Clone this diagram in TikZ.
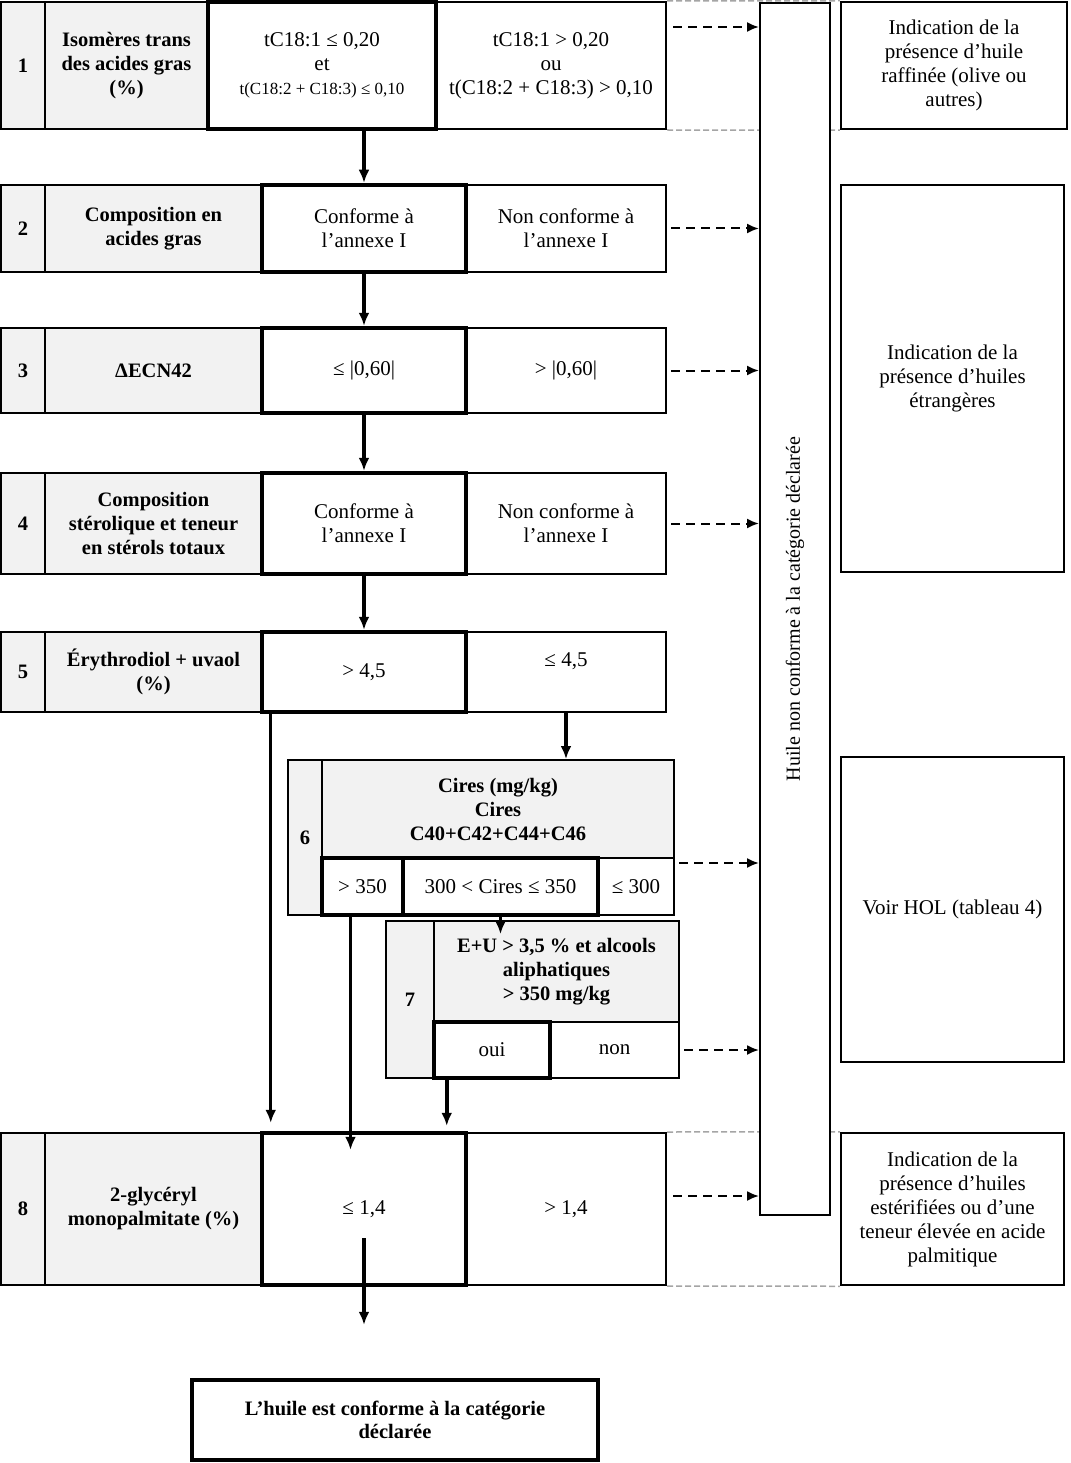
\documentclass[tikz,border=0pt]{standalone}
\usepackage{fontspec}
\setmainfont{Liberation Serif}
\usepackage{xcolor}
\definecolor{cellgrey}{RGB}{242, 242, 242}
\definecolor{guidegrey}{RGB}{165, 165, 165}
\usetikzlibrary{arrows.meta, positioning, calc}

\begin{document}
\begin{tikzpicture}[x=1pt, y=-1pt,
        area/.style n args={4}{at={({(#1+#3)/2},{(#2+#4)/2})}, minimum width={#3-#1}, minimum height={#4-#2}},
        cell/.style={rectangle, draw, line width=2pt, fill=white, inner sep=0pt, align=center, font=\fontsize{21}{24}\selectfont},
        num/.style={cell, fill=cellgrey, font=\fontsize{20.5}{24}\selectfont\bfseries},
        crit/.style={cell, fill=cellgrey, font=\fontsize{20.5}{24}\selectfont\bfseries},
        pass/.style={cell, line width=4.5pt},
        note/.style={rectangle, draw, line width=2.5pt, inner sep=0pt, align=center, font=\fontsize{21}{24}\selectfont},
        guide/.style={draw=guidegrey, line width=1.5pt, dash pattern=on 6pt off 3pt},
        line/.style={draw, -{Latex[length=13pt, width=11pt]}, line width=3.5pt},
        dline/.style={draw, -{Latex[length=12pt, width=10pt]}, line width=2pt, dash pattern=on 9pt off 6pt}]

    \useasboundingbox (0,0) rectangle (1070,1463);

    % rangee 1
    \node [num, area={1}{2}{45}{129}] (n1) {1};
    \node [crit, area={45}{2}{208}{129}] (c1) {Isomères trans\\des acides gras\\(\%)};
    \node [cell, area={436}{2}{666}{129}] (f1) {tC18:1 > 0,20\\ou\\t(C18:2 + C18:3) > 0,10};
    \node [pass, area={208}{2}{436}{129}] (p1) {tC18:1 ≤ 0,20\\et\\{\fontsize{17}{20}\selectfont t(C18:2 + C18:3) ≤ 0,10}};

    % rangee 2
    \node [num, area={1}{185}{45}{272}] (n2) {2};
    \node [crit, area={45}{185}{262}{272}] (c2) {Composition en\\acides gras};
    \node [cell, area={466}{185}{666}{272}] (f2) {Non conforme à\\l’annexe I};
    \node [pass, area={262}{185}{466}{272}] (p2) {Conforme à\\l’annexe I};

    % rangee 3
    \node [num, area={1}{328}{45}{413}] (n3) {3};
    \node [crit, area={45}{328}{262}{413}] (c3) {ΔECN42};
    \node [cell, area={466}{328}{666}{413}] (f3) {> |0,60|};
    \node [pass, area={262}{328}{466}{413}] (p3) {≤ |0,60|};

    % rangee 4
    \node [num, area={1}{473}{45}{574}] (n4) {4};
    \node [crit, area={45}{473}{262}{574}] (c4) {Composition\\stérolique et teneur\\en stérols totaux};
    \node [cell, area={466}{473}{666}{574}] (f4) {Non conforme à\\l’annexe I};
    \node [pass, area={262}{473}{466}{574}] (p4) {Conforme à\\l’annexe I};

    % rangee 5
    \node [num, area={1}{632}{45}{712}] (n5) {5};
    \node [crit, area={45}{632}{262}{712}] (c5) {Érythrodiol + uvaol\\(\%)};
    \node [cell, area={466}{632}{666}{712}] (f5) {≤ 4,5\\\phantom{0}};
    \node [pass, area={262}{632}{466}{712}] (p5) {> 4,5};

    % bloc 6
    \node [num, area={288}{760}{322}{915}] (n6) {6};
    \node [crit, area={322}{760}{674}{858}] (c6) {Cires (mg/kg)\\Cires\\C40+C42+C44+C46};
    \node [cell, area={598}{858}{674}{915}] (d6) {≤ 300};
    \node [pass, area={322}{858}{403}{915}] (a6) {> 350};
    \node [pass, area={403}{858}{598}{915}] (b6) {300 < Cires ≤ 350};

    % bloc 7
    \node [num, area={386}{921}{434}{1078}] (n7) {7};
    \node [crit, area={434}{921}{679}{1022}] (c7) {E+U > 3,5 \% et alcools\\aliphatiques\\> 350 mg/kg};
    \node [cell, area={550}{1022}{679}{1078}] (b7) {non};
    \node [pass, area={434}{1022}{550}{1078}] (a7) {oui};

    % rangee 8
    \node [num, area={1}{1133}{45}{1285}] (n8) {8};
    \node [crit, area={45}{1133}{262}{1285}] (c8) {2-glycéryl\\monopalmitate (\%)};
    \node [cell, area={466}{1133}{666}{1285}] (f8) {> 1,4};
    \node [pass, area={262}{1133}{466}{1285}] (p8) {≤ 1,4};

    \node [pass, font=\fontsize{20.5}{23}\selectfont\bfseries, area={192}{1380}{598}{1460}] (fin) {L’huile est conforme à la catégorie\\déclarée};

    % indications
    \node [note, area={841}{2}{1067}{129}] (r1) {Indication de la\\présence d’huile\\raffinée (olive ou\\autres)};
    \node [note, area={841}{185}{1064}{572}] (r2) {Indication de la\\présence d’huiles\\étrangères};
    \node [note, area={841}{757}{1064}{1062}] (r3) {Voir HOL (tableau 4)};
    \node [note, area={841}{1133}{1064}{1285}] (r4) {Indication de la\\présence d’huiles\\estérifiées ou d’une\\teneur élevée en acide\\palmitique};

    \path [guide] (f1.north east) -- (r1.north west);
    \path [guide] (f1.south east) -- (r1.south west);
    \path [guide] (f8.north east) -- (r4.north west);
    \path [guide] (f8.south east) -- (r4.south west);

    \node [cell, area={760}{3}{830}{1215}] (bar) {};
    \node [rotate=90, font=\fontsize{20}{24}\selectfont] (bartxt) at (bar.center) {Huile non conforme à la catégorie déclarée};

    % vers la non-conformite
    \path [dline] ([xshift=6pt, yshift=-26pt]f1.north east) coordinate (d1) -- (d1 -| bar.west);
    \path [dline] ([xshift=4pt]f2.east) -- (f2.east -| bar.west);
    \path [dline] ([xshift=4pt]f3.east) -- (f3.east -| bar.west);
    \path [dline] ([xshift=4pt]f4.east) -- (f4.east -| bar.west);
    \path [dline] ([xshift=4pt, yshift=-4pt]c6.south east) coordinate (d6) -- (d6 -| bar.west);
    \path [dline] ([xshift=4pt]b7.east) -- (b7.east -| bar.west);
    \path [dline] ([xshift=6pt, yshift=13pt]f8.east) coordinate (d8) -- (d8 -| bar.west);

    % suite du controle
    \path [line] (p1.south -| p2.center) -- (p2.north);
    \path [line] (p2) -- (p3);
    \path [line] (p3) -- (p4);
    \path [line] (p4) -- (p5);
    \path [line] (f5) -- (f5 |- c6.north);
    \path [line, line width=3pt] ([xshift=11pt]p5.south west) coordinate (g5) -- ($(g5 |- p8.north)+(0,-8)$);
    \path [line] ([xshift=-12pt]a6.south) coordinate (g6) -- ($(g6 |- p8.north)+(0,19)$);
    \path [line, line width=3pt] (b6.south) -- ($(b6.south |- c7.north)+(0,14)$);
    \path [line] ([xshift=15pt]a7.south west) coordinate (g7) -- ($(g7 |- p8.north)+(0,-5)$);
    \path [line] ($(p8.center)+(0,29)$) -- ($(p8.center |- fin.north)+(0,-53)$);
\end{tikzpicture}
\end{document}
